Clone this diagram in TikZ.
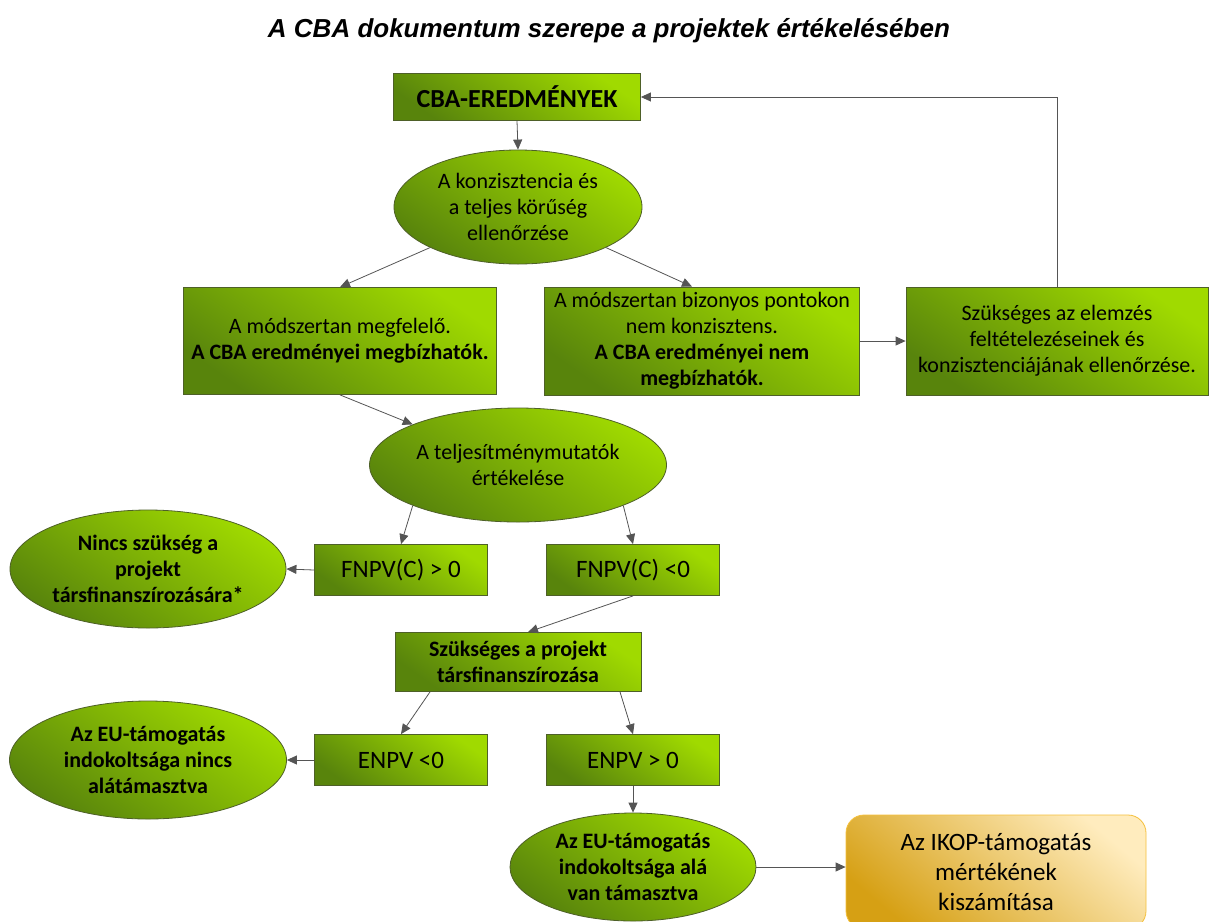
\documentclass[tikz,border=0pt]{standalone}
\usepackage{fontspec}
\setmainfont{Carlito}
\newfontfamily\cimfont{Liberation Sans}
\usetikzlibrary{arrows.meta,%
		calc,%
		shapes.geometric}

\definecolor{zoldsotet}{RGB}{88,132,12}
\definecolor{zoldvilagos}{RGB}{160,218,0}
\definecolor{zoldkeret}{RGB}{78,96,40}
\definecolor{narancssotet}{RGB}{214,160,20}
\definecolor{narancsvilagos}{RGB}{255,236,190}
\definecolor{narancskeret}{RGB}{245,192,60}
\definecolor{nyilszin}{RGB}{85,85,85}

\begin{document}
\begin{tikzpicture}[x=1pt,y=-1pt,font=\fontsize{22}{26}\selectfont,
	doboz/.style={draw=zoldkeret,line width=0.8pt,top color=zoldvilagos,bottom color=zoldsotet,shading angle=-35,align=center,inner sep=0pt},
	ellip/.style={ellipse,draw=zoldkeret,line width=0.8pt,top color=zoldvilagos,bottom color=zoldsotet,shading angle=-35,align=center,inner sep=0pt},
	narancs/.style={draw=narancskeret,line width=0.8pt,rounded corners=18pt,top color=narancsvilagos,bottom color=narancssotet,shading angle=-40,align=center,inner sep=0pt,font=\fontsize{25}{30}\selectfont},
	nagy/.style={font=\fontsize{25}{30}\selectfont},
	nyil/.style={draw=nyilszin,line width=0.8pt,-{Triangle[length=10pt,width=9pt]}}]

\useasboundingbox[fill=white] (0,0) rectangle (1209,921);

\node[font=\cimfont\bfseries\itshape\fontsize{26}{30}\selectfont] (cim) at (609,31) {A CBA dokumentum szerepe a projektek értékelésében};

% felso resz
\node[doboz,minimum width=247pt,minimum height=47pt,font=\fontsize{26}{30}\selectfont] (b1) at (517,97) {\textbf{CBA-EREDMÉNYEK}};
\node[ellip,minimum width=248pt,minimum height=114pt] (e1) at (518,207) {A konzisztencia és\\a teljes körűség\\ellenőrzése};
\node[doboz,minimum width=313pt,minimum height=107pt] (b2) at (340,341) {A módszertan megfelelő.\\\textbf{A CBA eredményei megbízhatók.}};
\node[doboz,minimum width=315pt,minimum height=108pt] (b3) at (702,341) {A módszertan bizonyos pontokon\\nem konzisztens.\\\textbf{A CBA eredményei nem}\\\textbf{megbízhatók.}};
\node[doboz,minimum width=302pt,minimum height=108pt] (b4) at (1057,341) {Szükséges az elemzés\\feltételezéseinek és\\konzisztenciájának ellenőrzése.};

% FNPV
\node[ellip,minimum width=297pt,minimum height=114pt] (e2) at (518,465) {A teljesítménymutatók\\értékelése};
\node[doboz,nagy,minimum width=173pt,minimum height=51pt] (f1) at (401,570) {FNPV(C) > 0};
\node[doboz,nagy,minimum width=173pt,minimum height=51pt] (f2) at (633,570) {FNPV(C) <0};
\node[ellip,minimum width=276pt,minimum height=118pt] (e3) at (148,569) {\textbf{Nincs szükség a}\\\textbf{projekt}\\\textbf{társfinanszírozására*}};

% ENPV
\node[doboz,minimum width=246pt,minimum height=59pt] (b5) at (518,662) {\textbf{Szükséges a projekt}\\\textbf{társfinanszírozása}};
\node[doboz,nagy,minimum width=173pt,minimum height=51pt] (n1) at (401,760) {ENPV <0};
\node[doboz,nagy,minimum width=173pt,minimum height=51pt] (n2) at (633,760) {ENPV > 0};
\node[ellip,minimum width=277pt,minimum height=118pt] (e4) at (148,760) {\textbf{Az EU-támogatás}\\\textbf{indokoltsága nincs}\\\textbf{alátámasztva}};
\node[ellip,minimum width=246pt,minimum height=108pt] (e5) at (633,867) {\textbf{Az EU-támogatás}\\\textbf{indokoltsága alá}\\\textbf{van támasztva}};
\node[narancs,minimum width=300pt,minimum height=114pt] (o1) at (996,872) {Az IKOP-támogatás\\mértékének\\kiszámítása};

% nyilak
\draw[nyil] (b1.south) -- (e1.north);
\draw[nyil] (e1.south west) -- (b2.north);
\draw[nyil] (e1.south east) -- ([xshift=-10pt]b3.north);
\draw[nyil] (b3.east) -- (b4.west);
\draw[nyil] (b4.north) |- (b1.east);
\draw[nyil] (b2.south) -- (e2.north west);
\draw[nyil] (e2.south west) -- (f1.north);
\draw[nyil] (e2.south east) -- (f2.north);
\draw[nyil] (f1.west) -- (e3.east);
\draw[nyil] (f2.south) -- ([xshift=10pt]b5.north);
\draw[nyil] ([xshift=-88pt]b5.south) -- (n1.north);
\draw[nyil] ([xshift=102pt]b5.south) -- (n2.north);
\draw[nyil] (n1.west) -- (e4.east);
\draw[nyil] (n2.south) -- (e5.north);
\draw[nyil] (e5.east) -- (o1.west |- e5.east);

\end{tikzpicture}
\end{document}
